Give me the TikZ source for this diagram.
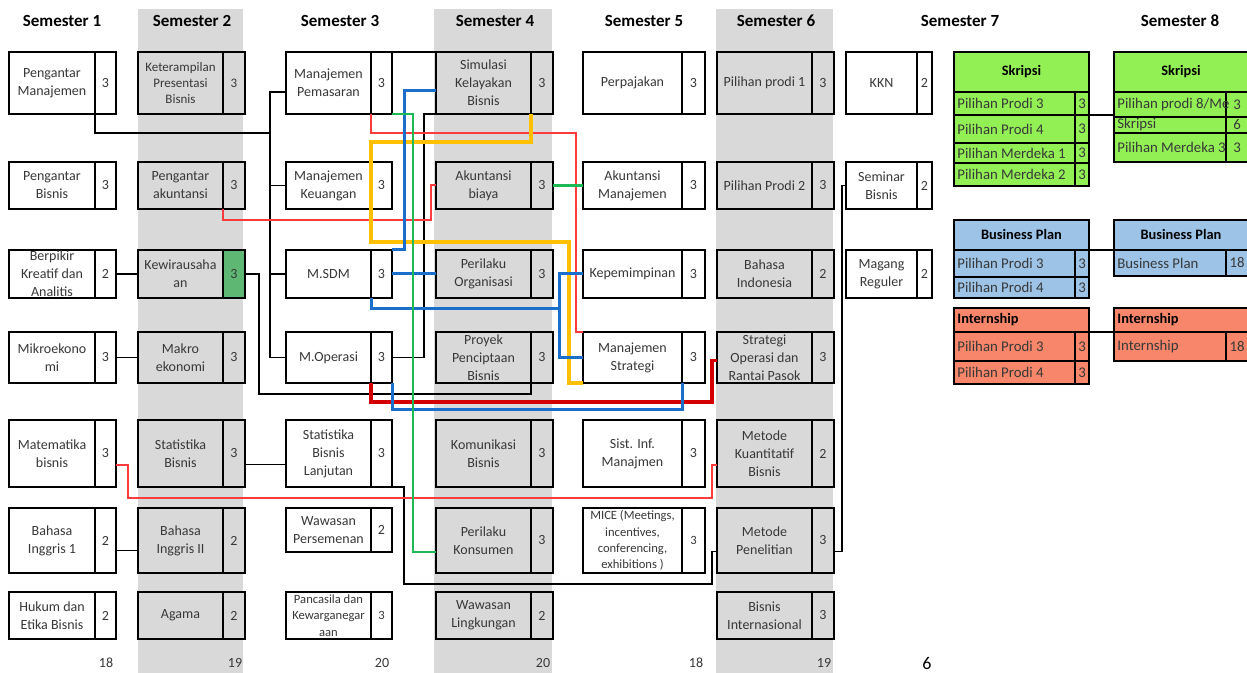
\documentclass[tikz,border=0pt]{standalone}
\usepackage{fontspec}
\setmainfont{Carlito}
\usetikzlibrary{calc}
\definecolor{colgray}{HTML}{D9D9D9}
\definecolor{kgreen}{HTML}{5EB873}
\definecolor{sgreen}{HTML}{92F055}
\definecolor{bplan}{HTML}{9DC3E6}
\definecolor{intern}{HTML}{F8866A}
\definecolor{cred}{HTML}{FF3B3B}
\definecolor{dred}{HTML}{D40000}
\definecolor{cblue}{HTML}{1A6FCC}
\definecolor{cgreen}{HTML}{1DB954}
\definecolor{cyel}{HTML}{FFC000}
\definecolor{txt}{HTML}{383838}
\newcommand\cfont{\fontsize{7}{9}\selectfont}
\newcommand\cellbox[6]{\node[cell,fill=#6,minimum width={0.5pt*(#3-#2)},minimum height={0.5pt*(#5-#4)}] (#1) at ({(#2+#3)/2},{(#4+#5)/2}) {};}
\newcommand\tcellbox[6]{\node[tcell,fill=#6,minimum width={0.5pt*(#3-#2)},minimum height={0.5pt*(#5-#4)}] (#1) at ({(#2+#3)/2},{(#4+#5)/2}) {};}
% id, x1, xd, x2, y1, y2, fill, text, credit
\newcommand\course[9]{%
  \cellbox{#1}{#2}{#3}{#5}{#6}{#7}
  \cellbox{#1c}{#3}{#4}{#5}{#6}{#7}
  \node[ctext] (#1t) at (#1.center) {#8};
  \node[ctext] (#1n) at (#1c.center) {#9};
}
% id, xd, y1, y2, fill, text, credit, x1, x2
\newcommand\trow[9]{%
  \tcellbox{#1}{#8}{#2}{#3}{#4}{#5}
  \tcellbox{#1c}{#2}{#9}{#3}{#4}{#5}
  \node[ttext] (#1t) at ($(#1.west)+(3,0)$) {#6};
  \node[tnum] (#1n) at (#1c.center) {#7};
}
\begin{document}
\begin{tikzpicture}[x=0.5pt,y=-0.5pt,
  cell/.style={draw=black,line width=1pt,inner sep=0pt,outer sep=0pt},
  tcell/.style={draw=black,line width=0.7pt,inner sep=0pt,outer sep=0pt},
  ctext/.style={align=center,font=\cfont,text=txt,inner sep=0pt},
  ttext/.style={anchor=west,font=\fontsize{7.4}{9}\selectfont,text=txt,inner sep=0pt},
  tnum/.style={font=\fontsize{7.4}{9}\selectfont,text=txt,inner sep=0pt},
  thead/.style={font=\fontsize{7.2}{9}\selectfont\bfseries,inner sep=0pt},
  hdr/.style={font=\fontsize{8.5}{10}\selectfont\bfseries},
  tot/.style={font=\fontsize{7}{9}\selectfont,text=txt},
  conn/.style={draw=black,line width=0.8pt},
  redl/.style={draw=cred,line width=1pt},
  redd/.style={draw=dred,line width=1.6pt},
  bluel/.style={draw=cblue,line width=1.5pt},
  greenl/.style={draw=cgreen,line width=1pt},
  greenk/.style={draw=cgreen,line width=1.3pt},
  yel/.style={draw=cyel,line width=1.6pt}]
\useasboundingbox (0,0) rectangle (1247,673);
\fill[white] (0,0) rectangle (1247,673);
% gray columns
\fill[colgray] (138,9) rectangle (243,673);
\fill[colgray] (434,9) rectangle (552,673);
\fill[colgray] (716,9) rectangle (833,673);
% headers
\node[hdr] (h1) at (62,21) {Semester 1};
\node[hdr] (h2) at (192,21) {Semester 2};
\node[hdr] (h3) at (340,21) {Semester 3};
\node[hdr] (h4) at (495,21) {Semester 4};
\node[hdr] (h5) at (644,21) {Semester 5};
\node[hdr] (h6) at (776,21) {Semester 6};
\node[hdr] (h7) at (960,21) {Semester 7};
\node[hdr] (h8) at (1180,21) {Semester 8};
% Semester 1
\course{pm}{9}{95}{116}{52}{114}{white}{Pengantar\\Manajemen}{3}
\course{pb}{9}{95}{116}{162}{209}{white}{Pengantar\\Bisnis}{3}
\course{bk}{9}{95}{116}{250}{298}{white}{Berpikir\\Kreatif dan\\Analitis}{2}
\course{mi}{9}{95}{116}{332}{383}{white}{Mikroekono\\mi}{3}
\course{mb}{9}{95}{116}{420}{487}{white}{Matematika\\bisnis}{3}
\course{bia}{9}{95}{116}{508}{573}{white}{Bahasa\\Inggris 1}{2}
\course{he}{9}{95}{116}{592}{639}{white}{Hukum dan\\Etika Bisnis}{2}
% Semester 2
\renewcommand\cfont{\fontsize{6.5}{8}\selectfont}
\course{kp}{138}{223}{245}{52}{114}{colgray}{Keterampilan\\Presentasi\\Bisnis}{3}
\renewcommand\cfont{\fontsize{7}{9}\selectfont}
\course{pa}{138}{223}{245}{162}{209}{colgray}{Pengantar\\akuntansi}{3}
\course{kw}{138}{223}{245}{250}{298}{colgray}{Kewirausaha\\an}{3}
\cellbox{kwc}{223}{245}{250}{298}{kgreen}
\node[ctext] (kwn) at (kwc.center) {3};
\course{mk}{138}{223}{245}{332}{383}{colgray}{Makro\\ekonomi}{3}
\course{sb}{138}{223}{245}{420}{487}{colgray}{Statistika\\Bisnis}{3}
\course{bib}{138}{223}{245}{508}{573}{colgray}{Bahasa\\Inggris II}{2}
\course{ag}{138}{223}{245}{592}{639}{colgray}{Agama}{2}
% Semester 3
\course{mp}{286}{371}{392}{52}{114}{white}{Manajemen\\Pemasaran}{3}
\course{mkeu}{286}{371}{392}{162}{209}{white}{Manajemen\\Keuangan}{3}
\course{msdm}{286}{371}{392}{250}{298}{white}{M.SDM}{3}
\course{mo}{286}{371}{392}{332}{383}{white}{M.Operasi}{3}
\course{sbl}{286}{371}{392}{420}{487}{white}{Statistika\\Bisnis\\Lanjutan}{3}
\course{wp}{286}{371}{392}{508}{552}{white}{Wawasan\\Persemenan}{2}
\renewcommand\cfont{\fontsize{6.3}{8.2}\selectfont}
\course{pk}{286}{371}{392}{592}{639}{white}{Pancasila dan\\Kewarganegar\\aan}{3}
\renewcommand\cfont{\fontsize{7}{9}\selectfont}
% Semester 4
\course{skl}{436}{531}{553}{52}{114}{colgray}{Simulasi\\Kelayakan\\Bisnis}{3}
\course{ab}{436}{531}{553}{162}{209}{colgray}{Akuntansi\\biaya}{3}
\course{po}{436}{531}{553}{250}{298}{colgray}{Perilaku\\Organisasi}{3}
\course{pp}{436}{531}{553}{332}{383}{colgray}{Proyek\\Penciptaan\\Bisnis}{3}
\course{kb}{436}{531}{553}{420}{487}{colgray}{Komunikasi\\Bisnis}{3}
\course{pkon}{436}{531}{553}{508}{573}{colgray}{Perilaku\\Konsumen}{3}
\course{wl}{436}{531}{553}{592}{639}{colgray}{Wawasan\\Lingkungan}{2}
% Semester 5
\course{pj}{583}{682}{705}{52}{114}{white}{Perpajakan}{3}
\course{am}{583}{682}{705}{162}{209}{white}{Akuntansi\\Manajemen}{3}
\course{kep}{583}{682}{705}{250}{298}{white}{Kepemimpinan}{3}
\course{ms}{583}{682}{705}{332}{383}{white}{Manajemen\\Strategi}{3}
\course{sim}{583}{682}{705}{420}{487}{white}{Sist. Inf.\\Manajmen}{3}
\renewcommand\cfont{\fontsize{6.3}{8.2}\selectfont}
\course{mice}{583}{682}{705}{508}{573}{white}{MICE (Meetings,\\incentives,\\conferencing,\\exhibitions )}{3}
\renewcommand\cfont{\fontsize{7}{9}\selectfont}
% Semester 6
\course{pa1}{717}{812}{834}{52}{114}{colgray}{Pilihan prodi 1}{3}
\course{pa2}{717}{812}{834}{162}{209}{colgray}{Pilihan Prodi 2}{3}
\course{bind}{717}{812}{834}{250}{298}{colgray}{Bahasa\\Indonesia}{2}
\course{sorp}{717}{812}{834}{332}{383}{colgray}{Strategi\\Operasi dan\\Rantai Pasok}{3}
\course{mkb}{717}{812}{834}{420}{487}{colgray}{Metode\\Kuantitatif\\Bisnis}{2}
\course{mpen}{717}{812}{834}{508}{573}{colgray}{Metode\\Penelitian}{3}
\course{bint}{717}{812}{834}{592}{639}{colgray}{Bisnis\\Internasional}{3}
% Semester 7
\course{kkn}{846}{917}{932}{52}{114}{white}{KKN}{2}
\course{semb}{846}{917}{932}{162}{209}{white}{Seminar\\Bisnis}{2}
\course{mag}{846}{917}{932}{250}{298}{white}{Magang\\Reguler}{2}
% totals
\node[tot] (t1) at (106,663) {18};
\node[tot] (t2) at (235,663) {19};
\node[tot] (t3) at (382,663) {20};
\node[tot] (t4) at (543,663) {20};
\node[tot] (t5) at (696,663) {18};
\node[tot] (t6) at (824,663) {19};
\node[font=\fontsize{9}{10}\selectfont] (t7) at (927,663) {6};
% right panel: Skripsi
\tcellbox{skL0}{954}{1089}{52}{92}{sgreen}
\node[thead] (skL0t) at (skL0.center) {Skripsi};
\trow{skLa}{1075}{92}{115}{sgreen}{Pilihan Prodi 3}{3}{954}{1089}
\trow{skLb}{1075}{115}{143}{sgreen}{Pilihan Prodi 4}{3}{954}{1089}
\trow{skLc}{1075}{143}{163}{sgreen}{Pilihan Merdeka 1}{3}{954}{1089}
\trow{skLd}{1075}{163}{186}{sgreen}{Pilihan Merdeka 2}{3}{954}{1089}
\tcellbox{skR0}{1114}{1248}{52}{92}{sgreen}
\node[thead] (skR0t) at (skR0.center) {Skripsi};
\trow{skRa}{1226}{92}{117}{sgreen}{Pilihan prodi 8/Me}{3}{1114}{1248}
\trow{skRb}{1226}{117}{133}{sgreen}{Skripsi}{6}{1114}{1248}
\trow{skRc}{1226}{133}{162}{sgreen}{Pilihan Merdeka 3}{3}{1114}{1248}
% Business Plan
\tcellbox{bpL0}{954}{1089}{220}{250}{bplan}
\node[thead] (bpL0t) at (bpL0.center) {Business Plan};
\trow{bpLa}{1075}{250}{277}{bplan}{Pilihan Prodi 3}{3}{954}{1089}
\trow{bpLb}{1075}{277}{298}{bplan}{Pilihan Prodi 4}{3}{954}{1089}
\tcellbox{bpR0}{1114}{1248}{220}{250}{bplan}
\node[thead] (bpR0t) at (bpR0.center) {Business Plan};
\trow{bpRa}{1226}{250}{276}{bplan}{Business Plan}{18}{1114}{1248}
% Internship
\tcellbox{inL0}{954}{1089}{308}{332}{intern}
\node[thead,anchor=west] (inL0t) at ($(inL0.west)+(3,0)$) {Internship};
\trow{inLa}{1075}{332}{361}{intern}{Pilihan Prodi 3}{3}{954}{1089}
\trow{inLb}{1075}{361}{384}{intern}{Pilihan Prodi 4}{3}{954}{1089}
\tcellbox{inR0}{1114}{1248}{308}{332}{intern}
\node[thead,anchor=west] (inR0t) at ($(inR0.west)+(3,0)$) {Internship};
\trow{inRa}{1226}{332}{361}{intern}{Internship}{18}{1114}{1248}
\draw[conn] (skLac.south east) -- (skLac.south east -| skRa.west);
\draw[conn] (bpL0.south east) -- (bpR0.south west);
\draw[conn] (inL0.south east) -- (inR0.south west);
% black connectors
\coordinate (tr) at (270,133);
\draw[conn] (pm.south east) |- (tr);
\draw[conn] ($(mp.west)+(0,9)$) -| (tr |- mo.west) -- (mo.west);
\draw[conn] (mkeu.west) -- (tr |- mkeu.west);
\draw[conn] (msdm.west) -- (tr |- msdm.west);
\draw[conn] (bkc.east) -- (kw.west);
\draw[conn] (kwc.east) -- ++(14,0) |- ($(pp.south east)+(0,11)$) -- (pp.south east);
\draw[conn] (mic.east) -- (mk.west);
\draw[conn] ($(sbc.east)+(0,11)$) -- ($(sbl.west)+(0,11)$);
\draw[conn] ($(biac.east)+(0,10)$) -- ($(bib.west)+(0,10)$);
\draw[conn] (sblc.south east) -- ++(12,0) -- ++(0,97) -| ($(mpen.west)+(-5,11)$) -- ($(mpen.west)+(0,11)$);
\draw[conn] (moc.east) -| ($(skl.south west)+(-12,0)$) -- (skl.south west);
\draw[conn] (mpc.north east) -- (skl.north west);
\draw[conn] ($(mpenc.east)+(0,11)$) -- ++(8,0) |- (semb.west);
% red
\draw[redl] (mp.south east) -- ++(0,19) -| ($(ms.north west)+(-7,0)$) -- (ms.north west);
\draw[redl] (pa.south east) -- ++(0,11) -| ($(ab.west)+(-5,0)$) -- (ab.west);
\draw[redl] ($(mbc.east)+(0,11)$) -- ++(12,0) -- ++(0,33) -| ($(mkb.west)+(-5,11)$) -- ($(mkb.west)+(0,11)$);
\draw[redd] (mo.south east) -- ++(0,19) -| ($(sorp.west)+(-5,3)$) -- ($(sorp.west)+(0,3)$);
% yellow
\draw[yel] (skl.south east) -- ++(0,28) -| (371,242) -| ($(ms.south west)+(-14,0)$) -- (ms.south west);
% blue
\draw[bluel] (msdmc.north east) -- ++(12,0) |- ($(skl.west)+(0,8)$);
\draw[bluel] (msdmc.east) -- (po.west);
\coordinate (bj) at (559,309);
\draw[bluel] (msdm.south east) |- (bj);
\draw[bluel] (kep.west) -| (bj |- ms.west) -- (ms.west);
\draw[bluel] (moc.south east) -- ++(0,27) -| (ms.south east);
% green
\draw[greenl] (mpc.south east) -- ++(21,0) |- ($(pkon.west)+(0,11)$);
\draw[greenk] (abc.east) -- (am.west);
\end{tikzpicture}
\end{document}
